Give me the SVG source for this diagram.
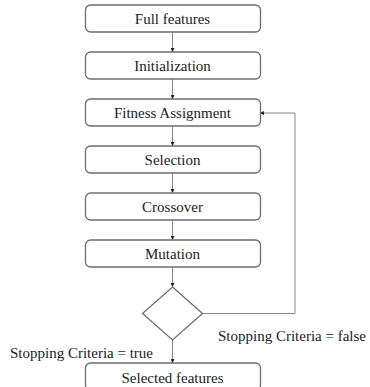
<svg xmlns="http://www.w3.org/2000/svg" width="370" height="387" viewBox="0 0 370 387">
<style>
.box{fill:#fff;stroke:#6e6e6e;stroke-width:1.3}
.lbl{font-size:15px;fill:#222;text-anchor:middle}
.note{font-size:15px;fill:#222}
.con{fill:none;stroke:#888;stroke-width:1}
</style>
<defs>
<marker id="ah" viewBox="0 0 6 6" refX="6" refY="3" markerWidth="4" markerHeight="4" orient="auto" markerUnits="userSpaceOnUse">
<path d="M0,0 L6,3 L0,6 z" fill="#222"/>
</marker>
</defs>
<rect width="370" height="387" fill="#fff"/>
<g id="connectors">
<line class="con" x1="172.5" y1="32" x2="172.5" y2="52" marker-end="url(#ah)"/>
<line class="con" x1="172.5" y1="79" x2="172.5" y2="99" marker-end="url(#ah)"/>
<line class="con" x1="172.5" y1="126" x2="172.5" y2="146" marker-end="url(#ah)"/>
<line class="con" x1="172.5" y1="173" x2="172.5" y2="193" marker-end="url(#ah)"/>
<line class="con" x1="172.5" y1="220" x2="172.5" y2="240" marker-end="url(#ah)"/>
<line class="con" x1="172.5" y1="267" x2="172.5" y2="287" marker-end="url(#ah)"/>
<line class="con" x1="172.5" y1="340" x2="172.5" y2="363" marker-end="url(#ah)"/>
<polyline class="con" points="202.5,313.5 295,313.5 295,113 260,113" marker-end="url(#ah)"/>
</g>
<g font-family="Liberation Serif, Times New Roman, serif">
<g id="full-features"><rect class="box" x="85.5" y="5" width="175" height="27" rx="5"/><text class="lbl" x="172.5" y="24">Full features</text></g>
<g id="initialization"><rect class="box" x="85.5" y="52" width="175" height="27" rx="5"/><text class="lbl" x="172.5" y="71">Initialization</text></g>
<g id="fitness-assignment"><rect class="box" x="85.5" y="99" width="175" height="27" rx="5"/><text class="lbl" x="172.5" y="118">Fitness Assignment</text></g>
<g id="selection"><rect class="box" x="85.5" y="146" width="175" height="27" rx="5"/><text class="lbl" x="172.5" y="165">Selection</text></g>
<g id="crossover"><rect class="box" x="85.5" y="193" width="175" height="27" rx="5"/><text class="lbl" x="172.5" y="212">Crossover</text></g>
<g id="mutation"><rect class="box" x="85.5" y="240" width="175" height="27" rx="5"/><text class="lbl" x="172.5" y="259">Mutation</text></g>
<g id="decision"><polygon class="box" points="172.5,287 202.5,313.5 172.5,340 142.5,313.5"/></g>
<g id="selected-features"><rect class="box" x="85.5" y="363" width="175" height="27" rx="5"/><text class="lbl" x="172.5" y="383">Selected features</text></g>
<g id="labels">
<text class="note" x="10" y="358">Stopping Criteria = true</text>
<text class="note" x="218" y="341">Stopping Criteria = false</text>
</g>
</g>
</svg>
